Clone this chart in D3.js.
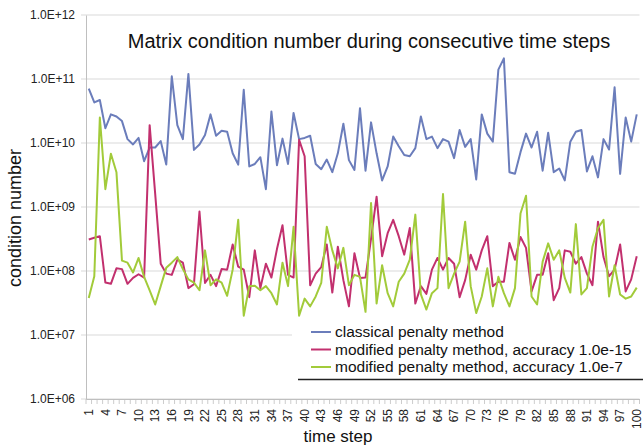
<!DOCTYPE html>
<html>
<head>
<meta charset="utf-8">
<script src="https://cdn.jsdelivr.net/npm/d3@7"></script>
<style>
  body { margin: 0; background: #fff; }
  text { font-family: "Liberation Sans", Arial, sans-serif; }
</style>
</head>
<body>
<script>
// time steps 1..100
var steps = d3.range(1, 101);

var classical = [7.1e10,4.3e10,4.7e10,1.7e10,2.8e10,2.6e10,2.2e10,1.15e10,9.5e9,1.2e10,
  5.2e9,8.5e9,8.5e9,1.07e10,4.6e9,1.1e11,1.9e10,1.15e10,1.2e11,7.8e9,
  9.5e9,1.33e10,2.8e10,1.3e10,1.55e10,1.5e10,6.9e9,4.6e9,6.8e10,4.3e9,
  4.7e9,6.0e9,1.9e9,3.1e10,4.5e9,1.17e10,4.7e9,2.95e10,1.15e10,1.2e10,
  1.3e10,4.7e9,3.9e9,5.5e9,3.5e9,6.9e9,2.0e10,5.4e9,3.8e9,3.5e10,
  3.7e9,2.1e10,6.9e9,2.6e9,4.3e9,1.26e10,8.9e9,6.5e9,6.2e9,8.3e9,
  2.6e10,1.15e10,1.26e10,8.3e9,1.15e10,1.05e10,5.8e9,1.6e10,8.7e9,1.15e10,
  2.7e9,2.8e10,1.4e10,1.05e10,1.4e11,2.1e11,3.5e9,3.3e9,7.2e9,1.4e10,
  8.5e9,1.5e10,3.7e9,1.45e10,3.5e9,4.0e9,2.6e9,1.05e10,1.5e10,1.6e10,
  3.6e9,6.2e9,2.9e9,1.15e10,7.9e9,7.4e10,3.3e9,2.5e10,1.05e10,2.8e10];

var modified15 = [3.1e8,3.3e8,3.5e8,6.6e7,6.3e7,1.1e8,1.07e8,6.3e7,7.8e7,8.9e7,
  7.9e7,1.9e10,1.6e9,1.3e8,9.1e7,8.7e7,1.5e8,1.35e8,5.4e7,6.2e7,
  8.5e8,6.5e7,8.7e7,5.8e7,1.07e8,1.05e8,2.6e8,1.17e8,1.05e8,3.9e7,
  2.1e8,5.4e7,1.3e8,7.9e7,2.2e8,5.2e8,8.7e7,7.9e7,1.12e10,6.2e9,
  6.0e7,9.1e7,1.15e8,2.6e8,4.6e7,2.4e8,7.2e7,2.8e7,1.9e8,7.8e7,
  7.9e7,3.2e8,1.45e9,1.7e8,3.9e8,6.3e8,3.5e8,1.8e8,4.7e8,3.1e7,
  5.8e7,4.4e7,1.05e8,1.6e8,1.05e8,1.6e8,1.3e8,3.9e7,7.2e7,1.8e8,
  1.05e8,2.1e8,3.5e8,5.8e7,6.8e7,6.8e7,2.75e8,1.5e8,3.4e8,2.3e8,
  4.8e7,8.7e7,8.7e7,1.9e8,3.5e7,5.4e7,2.1e8,2.0e8,1.3e8,1.65e8,
  9.1e7,6.0e7,5.9e8,1.65e8,8.3e7,1.05e8,2.6e8,4.8e7,7.4e7,1.7e8];

var modified7 = [3.8e7,8.3e7,2.5e10,1.9e9,6.8e9,3.5e9,1.45e8,1.35e8,9.5e7,1.6e8,
  8.1e7,5.0e7,3.0e7,5.8e7,1.12e8,1.35e8,1.65e8,1.07e8,7.4e7,6.6e7,
  5.0e7,2.1e8,6.0e7,7.4e7,6.6e7,4.1e7,1.05e8,6.3e8,2.0e7,5.8e7,
  5.9e7,5.0e7,5.8e7,4.5e7,3.0e7,1.35e8,5.8e7,4.9e8,2.0e7,3.7e7,
  2.8e7,4.0e7,6.5e7,4.9e8,2.1e8,1.1e8,2.3e8,6.0e7,8.7e7,8.1e7,
  2.3e7,1.15e9,3.1e7,1.23e8,4.5e7,2.8e7,6.8e7,9.1e7,1.5e8,7.6e8,
  4.3e7,2.5e7,4.5e7,5.4e7,1.6e9,5.4e7,9.1e7,1.4e8,5.9e8,5.8e7,
  2.2e7,4.0e7,1.1e8,2.8e7,8.1e7,4.5e7,2.8e7,5.4e7,7.9e8,1.5e9,
  4.0e7,3.0e7,1.4e8,2.7e8,1.5e8,2.1e8,7.8e7,4.6e7,5.4e8,4.3e7,
  5.4e7,2.4e8,4.7e8,6.3e8,4.0e7,1.23e8,4.3e7,3.7e7,4.0e7,5.5e7];

var seriesNames = ["classical penalty method",
  "modified penalty method, accuracy 1.0e-15",
  "modified penalty method, accuracy 1.0e-7"];
var seriesColors = ["#6b7dbb", "#c2306e", "#a2cb3a"];
var yTicks = [1e6, 1e7, 1e8, 1e9, 1e10, 1e11, 1e12];

var width = 643, height = 445;
var plotLeft = 86, plotRight = 639.5, plotTop = 15, plotBottom = 399;

var svg = d3.select("body").append("svg")
    .attr("width", width)
    .attr("height", height);

var x = d3.scaleBand().domain(steps).range([plotLeft, plotRight]);
var y = d3.scaleLog().domain([1e6, 1e12]).range([plotBottom, plotTop]);

// gridlines
svg.append("g")
    .selectAll("line")
    .data(yTicks)
    .enter().append("line")
    .attr("x1", plotLeft - 5)
    .attr("x2", plotRight)
    .attr("y1", function(d) { return y(d); })
    .attr("y2", function(d) { return y(d); })
    .attr("stroke", "#d9d9d9")
    .attr("stroke-width", 1);

// y axis
var yAxis = d3.axisLeft(y)
    .tickValues(yTicks)
    .tickSize(0)
    .tickPadding(11)
    .tickFormat(function(d) {
        var e = Math.round(Math.log10(d));
        return "1.0E+" + (e < 10 ? "0" + e : e);
    });
svg.append("g")
    .attr("transform", "translate(" + plotLeft + ",0)")
    .call(yAxis)
    .call(function(g) {
        g.select(".domain").attr("stroke", "#bfbfbf");
        g.selectAll("text").attr("font-size", 12).attr("fill", "#222")
          .attr("font-family", "Liberation Sans, Arial, sans-serif");
    });

// x axis
var xAxis = d3.axisBottom(x)
    .tickValues(steps.filter(function(d) { return (d - 1) % 3 === 0; }))
    .tickSize(0)
    .tickPadding(5);
var gx = svg.append("g")
    .attr("transform", "translate(0," + plotBottom + ")")
    .call(xAxis);
gx.select(".domain").attr("stroke", "#bfbfbf");
gx.selectAll("text")
    .attr("font-size", 12)
    .attr("fill", "#222")
    .attr("font-family", "Liberation Sans, Arial, sans-serif")
    .attr("transform", "rotate(-90)")
    .attr("text-anchor", "end")
    .attr("dy", "0.35em")
    .attr("x", -10)
    .attr("y", 0);

// minor category ticks
svg.append("g")
    .selectAll("line")
    .data(steps.concat([101]))
    .enter().append("line")
    .attr("x1", function(d) { return d <= 100 ? x(d) : plotRight; })
    .attr("x2", function(d) { return d <= 100 ? x(d) : plotRight; })
    .attr("y1", plotBottom)
    .attr("y2", plotBottom + 5)
    .attr("stroke", "#bfbfbf")
    .attr("stroke-width", 0.8);

// lines
var line = d3.line()
    .x(function(d, i) { return x(steps[i]) + x.bandwidth() / 2; })
    .y(function(d) { return y(d); });

[classical, modified15, modified7].forEach(function(s, k) {
    svg.append("path")
        .datum(s)
        .attr("d", line)
        .attr("fill", "none")
        .attr("stroke", seriesColors[k])
        .attr("stroke-width", 2)
        .attr("stroke-linejoin", "round");
});

// title
svg.append("text")
    .attr("x", 369)
    .attr("y", 48)
    .attr("text-anchor", "middle")
    .attr("font-size", 20)
    .attr("fill", "#111")
    .text("Matrix condition number during consecutive time steps");

// axis titles
svg.append("text")
    .attr("transform", "translate(21,218) rotate(-90)")
    .attr("text-anchor", "middle")
    .attr("font-size", 18)
    .attr("fill", "#111")
    .text("condition number");

svg.append("text")
    .attr("x", 338)
    .attr("y", 442)
    .attr("text-anchor", "middle")
    .attr("font-size", 17)
    .attr("fill", "#111")
    .text("time step");

// legend
var legend = svg.append("g");
legend.append("rect")
    .attr("x", 292).attr("y", 319)
    .attr("width", 351).attr("height", 60)
    .attr("fill", "#fff");
legend.append("line")
    .attr("x1", 298).attr("x2", 643)
    .attr("y1", 379.5).attr("y2", 379.5)
    .attr("stroke", "#222").attr("stroke-width", 1.5);
var rows = legend.selectAll("g.row")
    .data(seriesNames)
    .enter().append("g")
    .attr("class", "row")
    .attr("transform", function(d, i) { return "translate(0," + (332 + i * 17.5) + ")"; });
rows.append("line")
    .attr("x1", 311).attr("x2", 331)
    .attr("stroke", function(d, i) { return seriesColors[i]; })
    .attr("stroke-width", 2);
rows.append("text")
    .attr("x", 335)
    .attr("dy", "0.35em")
    .attr("font-size", 15.5)
    .attr("fill", "#111")
    .text(function(d) { return d; });
</script>
</body>
</html>
